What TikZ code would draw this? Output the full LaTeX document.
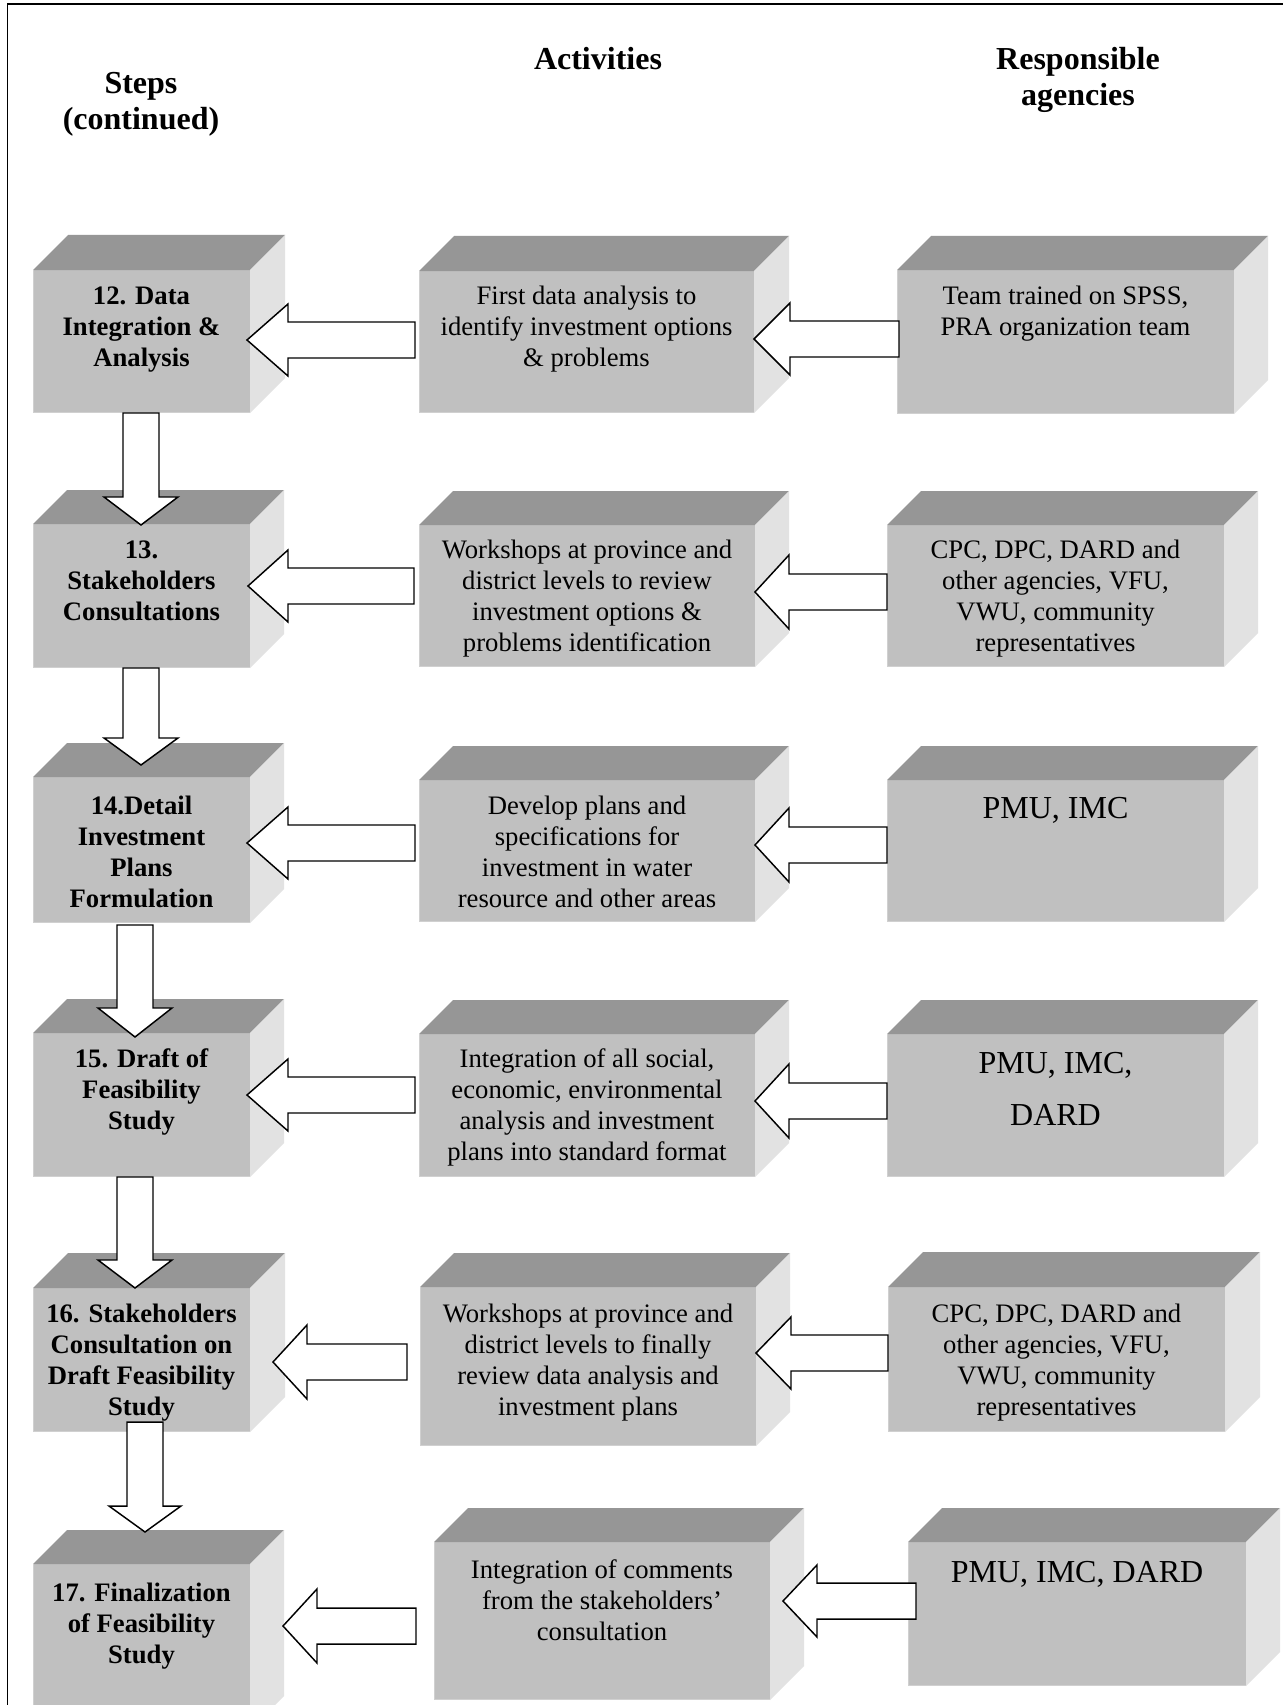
\documentclass[tikz,border=0pt]{standalone}
\usepackage{fontspec}
\setmainfont{Liberation Serif}
\usetikzlibrary{calc}
\definecolor{topc}{RGB}{150,150,150}
\definecolor{frontc}{RGB}{192,192,192}
\definecolor{sidec}{RGB}{226,226,226}
\definecolor{edgec}{RGB}{208,208,208}

% name, left, top, right, bottom, depth (all in px)
\newcommand\cube[6]{%
  \node[fill=frontc, inner sep=0pt, outer sep=0pt, anchor=north west,
        minimum width={(#4-#2)*0.75pt}, minimum height={(#5-#3)*0.75pt}] (#1) at (#2,#3) {};
  \fill[topc] (#1.north west) -- ++(#6,-#6) -- ($(#1.north east)+(#6,-#6)$) -- (#1.north east) -- cycle;
  \fill[sidec] (#1.north east) -- ++(#6,-#6) -- ($(#1.south east)+(#6,-#6)$) -- (#1.south east) -- cycle;
  \draw[edgec, line width=0.8pt] ([yshift=0.4pt]#1.south east) -- ([yshift=0.4pt,xshift=0.4pt]#1.south west) -- ([xshift=0.4pt]#1.north west);
}
% left-pointing block arrow: tip, tail, head length, head half height, shaft half height
\newcommand\harrow[5]{%
  \draw[barrow] (#1) -- ($(#1)+(#3,-#4)$) -- ($(#1)+(#3,-#5)$) -- ($(#2)+(0,-#5)$)
    -- ($(#2)+(0,#5)$) -- ($(#1)+(#3,#5)$) -- ($(#1)+(#3,#4)$) -- cycle;}
% down-pointing block arrow: tip, tail, head length, head half width, shaft half width
\newcommand\varrow[5]{%
  \draw[barrow] (#1) -- ($(#1)+(-#4,-#3)$) -- ($(#1)+(-#5,-#3)$) -- ($(#2)+(-#5,0)$)
    -- ($(#2)+(#5,0)$) -- ($(#1)+(#5,-#3)$) -- ($(#1)+(#4,-#3)$) -- cycle;}

\tikzset{
  barrow/.style={draw=black, fill=white, line width=1.1pt, line join=miter},
  steptext/.style={font=\bfseries\fontsize{20}{23.25}\selectfont, align=center, anchor=base, inner sep=0pt},
  acttext/.style={font=\fontsize{20}{23.25}\selectfont, align=center, anchor=base, inner sep=0pt},
  bigtext/.style={font=\fontsize{24}{39}\selectfont, align=center, anchor=base, inner sep=0pt},
  headtext/.style={font=\bfseries\fontsize{24}{27}\selectfont, align=center, anchor=base, inner sep=0pt},
}

\begin{document}
\begin{tikzpicture}[x=0.75pt, y=-0.75pt]
\useasboundingbox (0,0) rectangle (1282,1705);
\fill[white] (0,0) rectangle (1282,1705);
\draw[line width=1.2pt] (7.5,1710) -- (7.5,4) -- (1290,4);

% headings (anchor = baseline of the last line)
\node[headtext] (hsteps) at (141,130) {Steps\\(continued)};
\node[headtext] (hact) at (598,70) {Activities};
\node[headtext] (hresp) at (1078,106) {Responsible\\agencies};

% row 1
\cube{s12}{33}{270}{250}{413}{35}
\cube{a1}{419}{271}{754}{413}{35}
\cube{g1}{897}{270}{1234}{414}{34}
% row 2
\cube{s13}{33}{524}{250}{668}{34}
\cube{a2}{419}{525}{755}{667}{34}
\cube{g2}{887}{525}{1224}{667}{34}
% row 3
\cube{s14}{33}{777}{250}{923}{34}
\cube{a3}{419}{780}{755}{922}{34}
\cube{g3}{887}{780}{1224}{922}{34}
% row 4
\cube{s15}{33}{1033}{250}{1177}{34}
\cube{a4}{419}{1034}{755}{1177}{34}
\cube{g4}{887}{1034}{1224}{1177}{34}
% row 5
\cube{s16}{33}{1288}{250}{1432}{35}
\cube{a5}{420}{1287}{756}{1446}{34}
\cube{g5}{888}{1287}{1225}{1432}{35}
% row 6
\cube{s17}{33}{1564}{250}{1730}{34}
\cube{a6}{434}{1542}{770}{1700}{34}
\cube{g6}{908}{1542}{1246}{1686}{34}

% texts (anchor = baseline of the last line)
\node[steptext] (t12) at (s12.north |- 0,366) {12. Data\\Integration \&\\Analysis};
\node[acttext] (ta1) at (a1.north |- 0,366) {First data analysis to\\identify investment options\\\& problems};
\node[acttext] (tg1) at (g1.north |- 0,335) {Team trained on SPSS,\\PRA organization team};

\node[steptext] (t13) at (s13.north |- 0,620) {13.\\Stakeholders\\Consultations};
\node[acttext] (ta2) at (a2.north |- 0,651) {Workshops at province and\\district levels to review\\investment options \&\\problems identification};
\node[acttext] (tg2) at (g2.north |- 0,651) {CPC, DPC, DARD and\\other agencies, VFU,\\VWU, community\\representatives};

\node[steptext] (t14) at (s14.north |- 0,907) {14.Detail\\Investment\\Plans\\Formulation};
\node[acttext] (ta3) at (a3.north |- 0,907) {Develop plans and\\specifications for\\investment in water\\resource and other areas};
\node[bigtext] (tg3) at (g3.north |- 0,818) {PMU, IMC};

\node[steptext] (t15) at (s15.north |- 0,1129) {15. Draft of\\Feasibility\\Study};
\node[acttext] (ta4) at (a4.north |- 0,1160) {Integration of all social,\\economic, environmental\\analysis and investment\\plans into standard format};
\node[bigtext] (tg4) at (g4.north |- 0,1125) {PMU, IMC,\\DARD};

\node[steptext] (t16) at (s16.north |- 0,1415) {16. Stakeholders\\Consultation on\\Draft Feasibility\\Study};
\node[acttext] (ta5) at (a5.north |- 0,1415) {Workshops at province and\\district levels to finally\\review data analysis and\\investment plans};
\node[acttext] (tg5) at (g5.north |- 0,1415) {CPC, DPC, DARD and\\other agencies, VFU,\\VWU, community\\representatives};

\node[steptext] (t17) at (s17.north |- 0,1663) {17. Finalization\\of Feasibility\\Study};
\node[acttext] (ta6) at (a6.north |- 0,1640) {Integration of comments\\from the stakeholders’\\consultation};
\node[bigtext] (tg6) at (g6.north |- 0,1582) {PMU, IMC, DARD};

% horizontal arrows: agencies -> activities
\harrow{$(a1.east |- 0,339)$}{$(g1.west |- 0,339)+(2,0)$}{36}{36}{18}
\harrow{$(a2.east |- 0,592)$}{$(g2.west |- 0,592)$}{34}{37}{18}
\harrow{$(a3.east |- 0,845)$}{$(g3.west |- 0,845)$}{34}{37}{18}
\harrow{$(a4.east |- 0,1101)$}{$(g4.west |- 0,1101)$}{34}{37}{18}
\harrow{$(a5.east |- 0,1353)$}{$(g5.west |- 0,1353)$}{35}{36}{18}
\harrow{$(a6.east |- 0,1601)+(13,0)$}{$(g6.west |- 0,1601)+(8,0)$}{34}{36}{18}

% horizontal arrows: activities -> steps
\harrow{$(s12.east |- 0,340)+(-3,0)$}{$(a1.west |- 0,340)+(-4,0)$}{41}{36}{18}
\harrow{$(s13.east |- 0,586)+(-2,0)$}{$(a2.west |- 0,586)+(-5,0)$}{40}{36}{18}
\harrow{$(s14.east |- 0,843)+(-3,0)$}{$(a3.west |- 0,843)+(-4,0)$}{41}{36}{18}
\harrow{$(s15.east |- 0,1095)+(-3,0)$}{$(a4.west |- 0,1095)+(-4,0)$}{41}{36}{18}
\harrow{$(s16.east |- 0,1362)+(23,0)$}{$(a5.west |- 0,1362)+(-13,0)$}{34}{37}{18}
\harrow{$(s17.east |- 0,1626)+(33,0)$}{$(a6.west |- 0,1626)+(-18,0)$}{34}{37}{18}

% vertical arrows: step -> step
\varrow{$(s13.north west)+(108,1)$}{$(s12.south west)+(108,0)$}{28}{37}{18}
\varrow{$(s14.north west)+(108,-12)$}{$(s13.south west)+(108,0)$}{27}{37}{18}
\varrow{$(s15.north west)+(102,4)$}{$(s14.south west)+(102,2)$}{29}{37}{18}
\varrow{$(s16.north west)+(102,0)$}{$(s15.south west)+(102,0)$}{28}{37}{18}
\varrow{$(s17.north west)+(112,-32)$}{$(s16.south west)+(112,-10)$}{26}{36}{18}
\end{tikzpicture}
\end{document}
